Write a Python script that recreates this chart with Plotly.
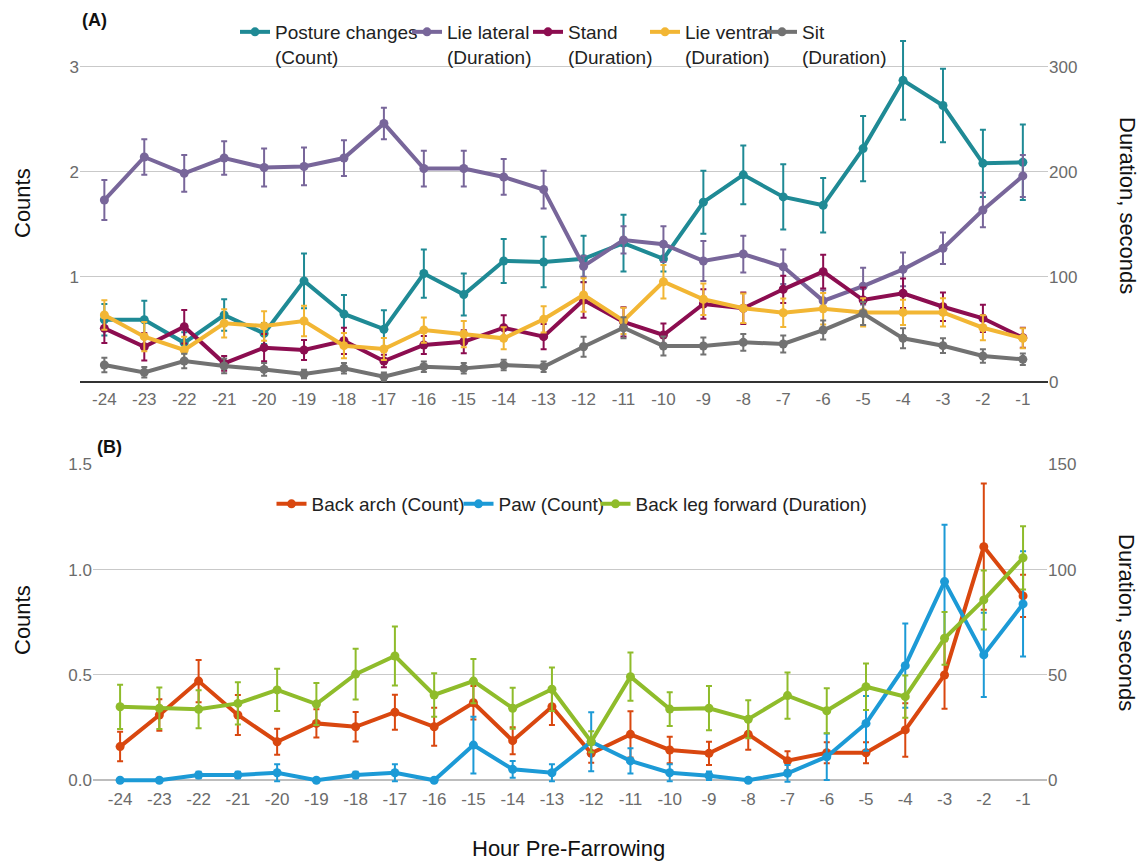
import plotly.graph_objects as go

# Hours before farrowing
hours = list(range(-24, 0))

# ---- Panel A: posture behaviour ----
posture_changes = [0.59, 0.59, 0.37, 0.635, 0.46, 0.96, 0.645, 0.50, 1.03, 0.83,
                   1.15, 1.14, 1.17, 1.32, 1.17, 1.71, 1.97, 1.76, 1.68, 2.22,
                   2.87, 2.63, 2.08, 2.09]
posture_changes_se = [0.15, 0.18, 0.10, 0.15, 0.10, 0.26, 0.18, 0.18, 0.23, 0.20,
                      0.21, 0.24, 0.22, 0.27, 0.12, 0.30, 0.28, 0.31, 0.26, 0.31,
                      0.375, 0.35, 0.32, 0.36]

lie_lateral = [173, 214, 198.5, 213, 204, 205, 213, 246, 203, 203,
               195, 183, 110, 135, 131, 115, 121.6, 109.5, 77, 91,
               107, 127, 163.5, 196]
lie_lateral_se = [19, 17, 17.5, 16, 18, 18, 17, 15, 17, 17,
                  17, 18, 10, 13, 17, 19, 17.5, 16.5, 10, 17.5,
                  16, 15, 16.5, 20]

stand = [50.8, 33.3, 52.4, 17.5, 32.4, 30.2, 39, 19.7, 35, 38,
         51.4, 42.9, 77.8, 57, 44.5, 74, 70, 88, 104.8, 77.8,
         84.2, 71.4, 60.4, 41.9]
stand_se = [14, 13, 16, 7, 13, 9.5, 12.5, 6, 8.5, 11,
            12, 12, 17, 14, 11, 14, 15, 13, 16, 12,
            14, 13.5, 13, 9.5]

lie_ventral = [63.5, 42.9, 30.2, 55.6, 53, 57.8, 34.3, 31.1, 49.2, 45.4,
               41.3, 59.4, 82.6, 58, 95.2, 78.5, 70, 65.7, 69.5, 66,
               66, 66, 51.4, 41.3]
lie_ventral_se = [14, 14, 12.5, 13.5, 14, 14.5, 12, 10.5, 12, 12.5,
                  10.5, 12.5, 16, 12.5, 16, 15, 14, 13.5, 15, 13.5,
                  12, 13.5, 12, 9.5]

sit = [15.9, 8.9, 19.7, 15, 11.7, 7.3, 12.7, 4.8, 14.3, 12.7,
       15.9, 14.3, 33.3, 51.4, 34, 34, 37.5, 35.9, 49.2, 65,
       41.3, 34.3, 24.5, 21.3]
sit_se = [7, 5, 7, 7, 6, 4, 5, 4, 5, 5,
          5, 5, 9.5, 10, 9, 8, 8, 8, 9, 11,
          9.5, 7, 6.5, 5.5]

# ---- Panel B: nest-building / farrowing behaviour ----
back_arch = [0.160, 0.31, 0.471, 0.31, 0.183, 0.27, 0.254, 0.323, 0.254, 0.368,
             0.188, 0.349, 0.128, 0.218, 0.144, 0.128, 0.218, 0.093, 0.131, 0.131,
             0.239, 0.50, 1.109, 0.875]
back_arch_se = [0.07, 0.075, 0.10, 0.095, 0.062, 0.067, 0.07, 0.083, 0.09, 0.08,
                0.064, 0.086, 0.045, 0.11, 0.063, 0.055, 0.073, 0.045, 0.05, 0.05,
                0.127, 0.16, 0.30, 0.10]

paw = [0.0, 0.0, 0.025, 0.025, 0.036, 0.0, 0.025, 0.036, 0.0, 0.167,
       0.052, 0.036, 0.183, 0.092, 0.036, 0.022, 0.0, 0.033, 0.112, 0.27,
       0.544, 0.943, 0.595, 0.837]
paw_se = [0.0, 0.0, 0.015, 0.015, 0.04, 0.0, 0.015, 0.04, 0.0, 0.135,
          0.04, 0.04, 0.14, 0.06, 0.04, 0.02, 0.0, 0.04, 0.11, 0.13,
          0.2, 0.27, 0.2, 0.25]

back_leg_forward = [34.9, 34.2, 33.7, 36.5, 42.9, 36.2, 50.4, 59, 40.5, 47.1,
                    34.2, 43.2, 18.3, 49.2, 33.8, 34.2, 29, 40.2, 33, 44.4,
                    39.7, 67.4, 85.6, 105.6]
back_leg_forward_se = [10.5, 9.8, 9, 10, 10, 10, 12, 14, 10.3, 10.5,
                       9.7, 10.3, 5, 11.5, 8, 10.5, 9, 11, 10.7, 11,
                       10, 12.5, 14, 15]

FONT = "Liberation Sans, Arial, sans-serif"
W, H = 1143, 867


def series(name, y, se, color, xaxis, yaxis, legend, entry_w):
    return go.Scatter(
        x=hours, y=y, name=name, mode="lines+markers",
        xaxis=xaxis, yaxis=yaxis, legend=legend, legendwidth=entry_w,
        line=dict(color=color, width=4),
        marker=dict(color=color, size=9),
        error_y=dict(type="data", array=se, visible=True,
                     color=color, thickness=2, width=3),
        cliponaxis=False,
    )


fig = go.Figure()

fig.add_trace(series("Posture changes<br>(Count)", posture_changes, posture_changes_se,
                     "#1f8a95", "x", "y", "legend", 127))
fig.add_trace(series("Lie lateral<br>(Duration)", lie_lateral, lie_lateral_se,
                     "#78669a", "x", "y2", "legend", 76))
fig.add_trace(series("Stand<br>(Duration)", stand, stand_se,
                     "#8c0d50", "x", "y2", "legend", 72))
fig.add_trace(series("Lie ventral<br>(Duration)", lie_ventral, lie_ventral_se,
                     "#f2b634", "x", "y2", "legend", 72))
fig.add_trace(series("Sit<br>(Duration)", sit, sit_se,
                     "#727272", "x", "y2", "legend", 84))

fig.add_trace(series("Back arch (Count)", back_arch, back_arch_se,
                     "#d9470f", "x2", "y3", "legend2", 142))
fig.add_trace(series("Paw (Count)", paw, paw_se,
                     "#1c9ad6", "x2", "y3", "legend2", 92))
fig.add_trace(series("Back leg forward (Duration)", back_leg_forward, back_leg_forward_se,
                     "#8fbc2b", "x2", "y4", "legend2", 230))


def ydom(top_px, bottom_px):
    return [1 - bottom_px / H, 1 - top_px / H]


tickfont = dict(family=FONT, size=17, color="#6b6b6b")
grid = "#c9c9c9"

# Panel A geometry: 0 -> 381.7 px, 1 count -> 105 px
a_zero, a_unit = 381.7, 105.0
a_lo, a_hi = -0.05, 3.4
# Panel B geometry: 0 -> 780.3 px, 1 count -> 210.7 px
b_zero, b_unit = 780.3, 210.7
b_lo, b_hi = -0.03, 1.5

axis_common = dict(automargin=False, showline=False, ticks="", tickfont=tickfont)

fig.update_layout(
    width=W, height=H,
    margin=dict(l=0, r=0, t=0, b=0, autoexpand=False),
    paper_bgcolor="white", plot_bgcolor="white",
    font=dict(family=FONT, color="#222222"),
    showlegend=True,
    xaxis=dict(domain=[80 / W, 1048 / W], range=[-24.61, -0.37], anchor="y",
               tickmode="array", tickvals=hours, ticktext=[str(h) for h in hours],
               showgrid=False, zeroline=False, **axis_common),
    yaxis=dict(domain=ydom(a_zero - a_hi * a_unit, a_zero - a_lo * a_unit),
               range=[a_lo, a_hi], anchor="x",
               tickmode="array", tickvals=[1, 2, 3],
               showgrid=True, gridcolor=grid, gridwidth=1,
               zeroline=True, zerolinecolor="#333333", zerolinewidth=2,
               **axis_common),
    yaxis2=dict(overlaying="y", side="right", anchor="x",
                range=[a_lo * 100, a_hi * 100],
                tickmode="array", tickvals=[0, 100, 200, 300],
                showgrid=False, zeroline=False, **axis_common),
    xaxis2=dict(domain=[93 / W, 1047 / W], range=[-24.69, -0.39], anchor="y3",
                tickmode="array", tickvals=hours, ticktext=[str(h) for h in hours],
                showgrid=False, zeroline=False, **axis_common),
    yaxis3=dict(domain=ydom(b_zero - b_hi * b_unit, b_zero - b_lo * b_unit),
                range=[b_lo, b_hi], anchor="x2",
                tickmode="array", tickvals=[0, 0.5, 1.0, 1.5],
                ticktext=["0.0", "0.5", "1.0", "1.5"],
                showgrid=True, gridcolor=grid, gridwidth=1,
                zeroline=True, zerolinecolor="#bdbdbd", zerolinewidth=1.5,
                **axis_common),
    yaxis4=dict(overlaying="y3", side="right", anchor="x2",
                range=[b_lo * 100, b_hi * 100],
                tickmode="array", tickvals=[0, 50, 100, 150],
                showgrid=False, zeroline=False, **axis_common),
    legend=dict(orientation="h", x=563 / W, xanchor="center",
                y=1 - 13 / H, yanchor="top", valign="top",
                bgcolor="rgba(0,0,0,0)", entrywidthmode="pixels",
                font=dict(family=FONT, size=19, color="#222222")),
    legend2=dict(orientation="h", x=571 / W, xanchor="center",
                 y=1 - 485 / H, yanchor="top",
                 bgcolor="rgba(0,0,0,0)", entrywidthmode="pixels",
                 font=dict(family=FONT, size=19, color="#222222")),
)

title_font = dict(family=FONT, size=22, color="#111111")
annotations = [
    dict(text="<b>(A)</b>", x=80 / W, y=1 - 20 / H, xanchor="left", yanchor="middle",
         font=dict(family=FONT, size=18, color="#111111")),
    dict(text="<b>(B)</b>", x=95 / W, y=1 - 447 / H, xanchor="left", yanchor="middle",
         font=dict(family=FONT, size=18, color="#111111")),
    dict(text="Counts", x=22 / W, y=1 - 203 / H, textangle=-90,
         xanchor="center", yanchor="middle", font=title_font),
    dict(text="Counts", x=22 / W, y=1 - 620 / H, textangle=-90,
         xanchor="center", yanchor="middle", font=title_font),
    dict(text="Duration, seconds", x=1128 / W, y=1 - 205 / H, textangle=90,
         xanchor="center", yanchor="middle", font=title_font),
    dict(text="Duration, seconds", x=1127 / W, y=1 - 622 / H, textangle=90,
         xanchor="center", yanchor="middle", font=title_font),
    dict(text="Hour Pre-Farrowing", x=568 / W, y=1 - 848 / H,
         xanchor="center", yanchor="middle", font=title_font),
]
for a in annotations:
    a.update(xref="paper", yref="paper", showarrow=False)
fig.update_layout(annotations=annotations)

fig.write_html("out.html")
